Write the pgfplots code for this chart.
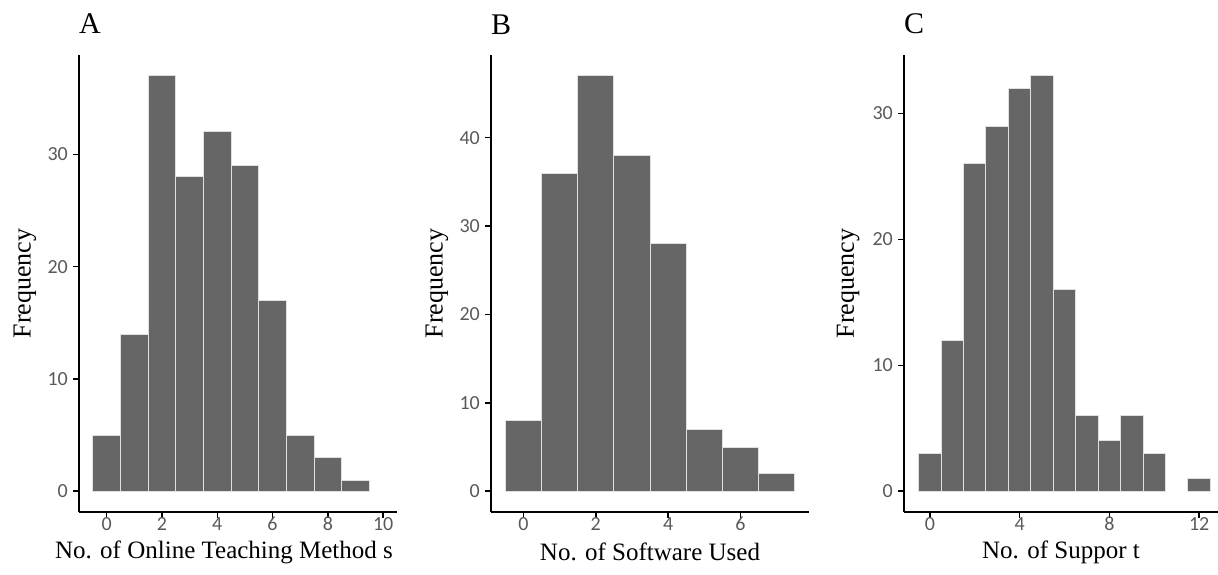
\documentclass[border=0pt]{standalone}
\usepackage{fontspec}
\setmainfont{Liberation Serif}
\newfontfamily\tickfont{Carlito}
\usepackage{pgfplots}
\pgfplotsset{compat=1.18}
\definecolor{barfill}{HTML}{666666}
\definecolor{ticklab}{HTML}{595959}
\pgfplotsset{
  histo/.style={
    scale only axis, anchor=south west, height=457pt,
    axis lines*=left,
    xtick pos=bottom, ytick pos=left,
    axis line style={-, black, line width=1.4pt},
    xtick style={draw=black, line width=1.5pt},
    ytick style={draw=black, line width=1.5pt},
    major tick length=6pt, tick align=outside,
    clip=false,
    ticklabel style={font=\fontsize{20}{20}\selectfont\tickfont, text=ticklab},
    xticklabel style={inner sep=0pt, yshift=1pt},
    yticklabel style={inner sep=5pt},
    /pgf/number format/assume math mode=true,
    ylabel={Frequency},
    xlabel style={font=\fontsize{25}{25}\selectfont, at={(axis description cs:0.5,0)}, anchor=center, yshift=-40pt, inner sep=0pt},
    title style={font=\fontsize{30}{30}\selectfont, at={(axis description cs:0,1)}, anchor=base west, yshift=15pt, inner sep=0pt},
    ybar, bar width=1, bar shift=0pt,
    enlargelimits=false,
  },
  bars/.style={fill=barfill, draw=white!88!black, line width=0.9pt},
}
\begin{document}
\begin{tikzpicture}
\useasboundingbox (0,0) rectangle (1218pt,574pt);
\begin{axis}[histo, at={(79pt,62pt)}, width=318pt,
  xmin=-1, xmax=10.5, ymin=-1.85, ymax=38.85,
  xtick={0,2,4,6,8,10}, ytick={0,10,20,30},
  ylabel style={font=\fontsize{26}{26}\selectfont, at={(axis description cs:-0.17,0.5)}, anchor=center},
  title={A}, xlabel={No. of Online Teaching Method s},
  xlabel style={xshift=-14pt}]
\addplot[bars] coordinates {(0,5) (1,14) (2,37) (3,28) (4,32) (5,29) (6,17) (7,5) (8,3) (9,1)};
\end{axis}
\begin{axis}[histo, at={(491pt,62pt)}, width=318pt,
  xmin=-0.9, xmax=7.9, ymin=-2.35, ymax=49.35,
  xtick={0,2,4,6}, ytick={0,10,20,30,40},
  ylabel style={font=\fontsize{26}{26}\selectfont, at={(axis description cs:-0.17,0.5)}, anchor=center},
  title={B}, xlabel={No. of Software Used}]
\addplot[bars] coordinates {(0,8) (1,36) (2,47) (3,38) (4,28) (5,7) (6,5) (7,2)};
\end{axis}
\begin{axis}[histo, at={(904pt,62pt)}, width=314pt,
  xmin=-1.15, xmax=12.84, ymin=-1.65, ymax=34.65,
  xtick={0,4,8,12}, ytick={0,10,20,30},
  ylabel style={font=\fontsize{26}{26}\selectfont, at={(axis description cs:-0.178,0.5)}, anchor=center},
  title={C}, xlabel={No. of Suppor t}]
\addplot[bars] coordinates {(0,3) (1,12) (2,26) (3,29) (4,32) (5,33) (6,16) (7,6) (8,4) (9,6) (10,3) (12,1)};
\end{axis}
\end{tikzpicture}
\end{document}
